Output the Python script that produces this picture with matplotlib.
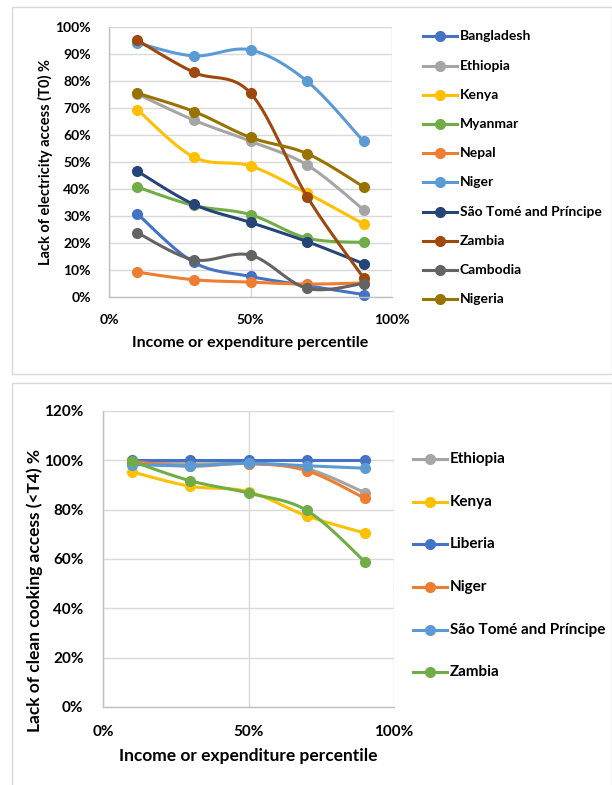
import numpy as np
import matplotlib
matplotlib.use("Agg")
import matplotlib.pyplot as plt
from matplotlib import patches
from matplotlib.lines import Line2D
from matplotlib.ticker import PercentFormatter

plt.rcParams['font.family'] = ['Lato', 'DejaVu Sans']
plt.rcParams['font.weight'] = 'bold'

W, H = 612, 785

percentile = [10, 30, 50, 70, 90]

# lack of electricity access (T0), %
elec_countries = ["Bangladesh", "Ethiopia", "Kenya", "Myanmar", "Nepal", "Niger",
                  "São Tomé and Príncipe", "Zambia", "Cambodia", "Nigeria"]
elec_bangladesh = [30.8, 12.8, 7.6, 4.2, 0.9]
elec_ethiopia = [75.2, 65.5, 57.7, 48.9, 32.3]
elec_kenya = [69.4, 51.8, 48.5, 38.4, 27.0]
elec_myanmar = [40.7, 33.9, 30.5, 21.8, 20.2]
elec_nepal = [9.2, 6.4, 5.5, 4.8, 5.2]
elec_niger = [94.1, 89.3, 91.5, 79.9, 57.6]
elec_stp = [46.6, 34.3, 27.6, 20.5, 12.3]
elec_zambia = [95.1, 83.2, 75.5, 37.2, 7.0]
elec_cambodia = [23.8, 13.8, 15.5, 3.2, 5.0]
elec_nigeria = [75.5, 68.7, 59.1, 53.1, 40.8]
elec_values = [elec_bangladesh, elec_ethiopia, elec_kenya, elec_myanmar, elec_nepal,
               elec_niger, elec_stp, elec_zambia, elec_cambodia, elec_nigeria]
elec_colors = ["#4472C4", "#A5A5A5", "#FFC000", "#70AD47", "#ED7D31",
               "#5B9BD5", "#264478", "#9E480E", "#636363", "#997300"]

# lack of clean cooking access (<T4), %
cook_countries = ["Ethiopia", "Kenya", "Liberia", "Niger", "São Tomé and Príncipe", "Zambia"]
cook_ethiopia = [99.3, 98.6, 98.6, 96.6, 86.9]
cook_kenya = [95.3, 89.5, 87.3, 77.5, 70.5]
cook_liberia = [100.0, 100.0, 100.0, 100.0, 100.0]
cook_niger = [99.5, 97.6, 98.7, 95.8, 84.6]
cook_stp = [98.3, 97.8, 98.8, 97.8, 96.8]
cook_zambia = [99.6, 91.7, 86.7, 79.7, 58.9]
cook_values = [cook_ethiopia, cook_kenya, cook_liberia, cook_niger, cook_stp, cook_zambia]
cook_colors = ["#A5A5A5", "#FFC000", "#4472C4", "#ED7D31", "#5B9BD5", "#70AD47"]


def smooth(x, y, n=30):
    # Catmull-Rom style bezier, close to the spreadsheet "smoothed line"
    x = np.asarray(x, float)
    y = np.asarray(y, float)
    pts = np.column_stack([x, y])
    ext = np.vstack([pts[0], pts, pts[-1]])
    out = []
    t = np.linspace(0, 1, n)[:, None]
    for i in range(len(pts) - 1):
        p0, p1, p2, p3 = ext[i], ext[i + 1], ext[i + 2], ext[i + 3]
        c1 = p1 + (p2 - p0) / 6
        c2 = p2 - (p3 - p1) / 6
        seg = ((1 - t) ** 3) * p1 + 3 * ((1 - t) ** 2) * t * c1 + 3 * (1 - t) * t ** 2 * c2 + t ** 3 * p2
        out.append(seg if i == 0 else seg[1:])
    seg = np.vstack(out)
    return seg[:, 0], seg[:, 1]


def px_axes(fig, left, top, right, bottom):
    return fig.add_axes([left / W, 1 - bottom / H, (right - left) / W, (bottom - top) / H])


def style_axes(ax, ymax, ystep, fs):
    ax.set_xlim(0, 100)
    ax.set_ylim(0, ymax)
    ax.set_xticks([0, 50, 100])
    ax.set_yticks(np.arange(0, ymax + 1, ystep))
    ax.xaxis.set_major_formatter(PercentFormatter(decimals=0))
    ax.yaxis.set_major_formatter(PercentFormatter(decimals=0))
    ax.grid(True, color="#D9D9D9", lw=1)
    ax.set_axisbelow(True)
    for s in ["top", "right"]:
        ax.spines[s].set_visible(False)
    for s in ["left", "bottom"]:
        ax.spines[s].set_color("#BFBFBF")
        ax.spines[s].set_linewidth(1)
    ax.tick_params(length=0, labelsize=fs, colors="black")
    for lab in ax.get_xticklabels() + ax.get_yticklabels():
        lab.set_fontweight("bold")


def set_titles(ax, xlabel, ylabel, fs, x_y, y_x, y_y):
    ax.set_xlabel(xlabel, fontsize=fs, fontweight="bold")
    ax.set_ylabel(ylabel, fontsize=fs, fontweight="bold")
    ax.xaxis.set_label_coords(0.5, x_y)
    ax.xaxis.label.set_va("center")
    ax.yaxis.set_label_coords(y_x, y_y)
    ax.yaxis.label.set_va("center")


def draw_series(ax, values, colors):
    for vals, col in zip(values, colors):
        sx, sy = smooth(percentile, vals)
        ax.plot(sx, sy, color=col, lw=2.2, solid_capstyle="round", clip_on=False)
        ax.plot(percentile, vals, "o", color=col, ms=7, clip_on=False)


def legend(fig, names, colors, x0, ys, fs):
    for name, col, y in zip(names, colors, ys):
        yf = 1 - y / H
        fig.add_artist(Line2D([x0 / W, (x0 + 34) / W], [yf, yf], color=col, lw=2.2))
        fig.add_artist(Line2D([(x0 + 17) / W], [yf], marker="o", color=col, ms=7))
        fig.text((x0 + 37) / W, yf, name, fontsize=fs, fontweight="bold", va="center", ha="left")


fig = plt.figure(figsize=(W / 100, H / 100), dpi=100)

# panel frames
fig.add_artist(patches.Rectangle((12 / W, 1 - 374 / H), 600 / W, 367 / H, fill=False,
                                 edgecolor="#D9D9D9", lw=1))
fig.add_artist(patches.Rectangle((12 / W, -0.01), 600 / W, (H - 383) / H + 0.01, fill=False,
                                 edgecolor="#D9D9D9", lw=1))

# electricity panel: axes 109..392 x 27..297 px
ax1 = px_axes(fig, 109, 27, 392, 297)
style_axes(ax1, 100, 10, 10)
draw_series(ax1, elec_values, elec_colors)
ax1.tick_params(axis="x", pad=12)
ax1.tick_params(axis="y", pad=13)
set_titles(ax1, "Income or expenditure percentile", "Lack of electricity access (T0) %", 11.5,
           (297 - 343) / 270, (45 - 109) / 283, 0.5)
ax1.yaxis.label.set_fontsize(10.5)
legend(fig, elec_countries, elec_colors, 423, [36, 66, 95, 124, 153, 182, 212, 241, 270, 299], 10)

# clean cooking panel: axes 103..394 x 411..707 px
ax2 = px_axes(fig, 103, 411, 394, 707)
style_axes(ax2, 120, 20, 11)
draw_series(ax2, cook_values, cook_colors)
ax2.tick_params(axis="x", pad=13)
ax2.tick_params(axis="y", pad=14)
set_titles(ax2, "Income or expenditure percentile", "Lack of clean cooking access (<T4) %", 12.5,
           (707 - 756) / 296, (35 - 103) / 291, (707 - 590) / 296)
legend(fig, cook_countries, cook_colors, 413, [459, 502, 544, 587, 630, 672], 11)

fig.savefig("out.png", dpi=100)
